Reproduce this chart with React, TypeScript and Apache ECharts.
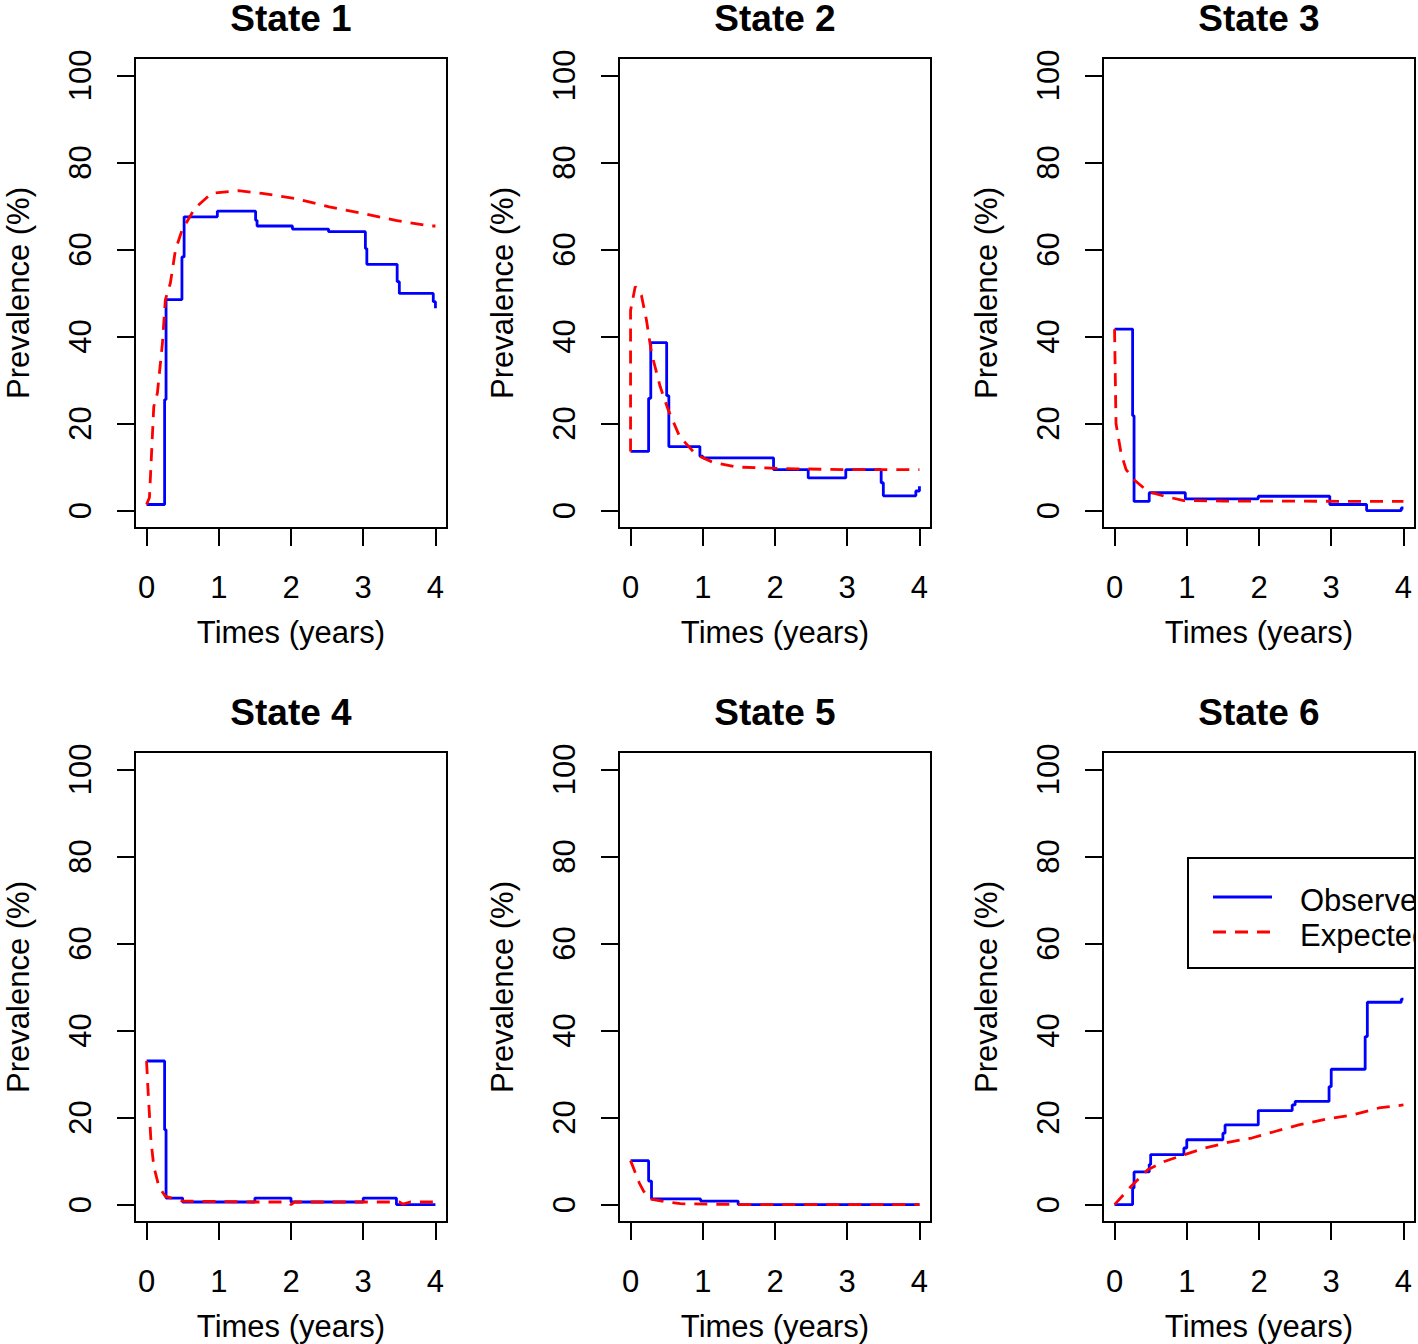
import React, { useEffect, useRef } from "react";
import * as echarts from "echarts";

const stateTitles = ["State 1", "State 2", "State 3", "State 4", "State 5", "State 6"];
const xTicks = [0, 1, 2, 3, 4];
const yTicks = [0, 20, 40, 60, 80, 100];
const xTitle = "Times (years)";
const yTitle = "Prevalence (%)";
const legendLabels = ["Observed", "Expected"];

// Observed prevalence (step function), [time, value]
const observed1 = [[0, 1.4], [0.25, 25.5], [0.27, 48.5], [0.49, 58.3], [0.52, 67.5], [0.98, 68.8], [1.51, 66.7], [1.53, 65.4], [2.02, 64.7], [2.52, 64.1], [3.03, 60.2], [3.05, 56.6], [3.47, 52.6], [3.5, 49.9], [3.97, 48], [4, 46.5]];
const observed2 = [[0, 13.6], [0.25, 25.8], [0.28, 38.6], [0.5, 26.4], [0.53, 14.7], [0.96, 12.5], [1.0, 12.1], [1.98, 9.4], [2.46, 7.5], [2.98, 9.4], [3.47, 6.4], [3.5, 3.4], [3.95, 4.5], [4, 5.6]];
const observed3 = [[0, 41.7], [0.25, 21.8], [0.27, 2.1], [0.48, 4.1], [0.98, 2.7], [1.99, 3.3], [2.98, 1.4], [3.49, 0], [3.97, 0.6], [4, 0.6]];
const observed4 = [[0, 33], [0.25, 17.2], [0.27, 1.5], [0.5, 0.6], [1.5, 1.5], [2.0, 0.6], [3.0, 1.5], [3.46, 0], [4, 0]];
const observed5 = [[0, 10.1], [0.25, 5.4], [0.29, 1.3], [0.97, 0.8], [1.49, 0], [4, 0]];
const observed6 = [[0, 0], [0.25, 3.8], [0.27, 7.5], [0.48, 9.2], [0.5, 11.5], [0.96, 13], [1.0, 14.9], [1.5, 16.4], [1.53, 18.3], [1.99, 21.6], [2.46, 22.9], [2.5, 23.7], [2.97, 27.1], [3.0, 31.1], [3.47, 38.6], [3.5, 46.5], [3.97, 47.2], [4, 47.2]];

// Expected prevalence, [time, value]
const expected1 = [[0, 1.4], [0.04, 3], [0.1, 23.9], [0.15, 27], [0.22, 38.5], [0.26, 48.4], [0.33, 52.3], [0.4, 59.9], [0.49, 64.4], [0.67, 69.5], [0.9, 72.9], [1.27, 73.5], [1.6, 72.9], [2.06, 71.7], [2.53, 69.8], [2.99, 68.3], [3.45, 66.7], [3.92, 65.4], [4, 65.4]];
const expected2 = [[0, 13.6], [0, 46], [0.065, 51.5], [0.15, 49.5], [0.22, 43.8], [0.29, 36.2], [0.41, 28.5], [0.52, 23.2], [0.68, 17], [0.91, 12.8], [1.14, 11.1], [1.47, 10], [1.84, 9.8], [2.3, 9.6], [3, 9.4], [4, 9.4]];
const expected3 = [[0, 41.7], [0.02, 20], [0.09, 13.2], [0.16, 9.4], [0.27, 7.1], [0.46, 4.4], [0.69, 3.3], [0.96, 2.3], [1.5, 2.2], [4, 2.1]];
const expected4 = [[0, 33], [0.02, 26.4], [0.06, 14.9], [0.1, 8.8], [0.17, 4.2], [0.26, 1.9], [0.5, 0.8], [1.5, 0.6], [1.95, 0.6], [2.0, 0], [2.05, 0.6], [3.5, 0.6], [3.55, 0.1], [3.65, 0.6], [4, 0.6]];
const expected5 = [[0, 10.1], [0.05, 8], [0.12, 5], [0.18, 3.1], [0.27, 1.3], [0.46, 0.7], [0.69, 0.2], [1.5, 0], [4, 0]];
const expected6 = [[0, 0], [0.23, 4.2], [0.46, 8], [0.69, 9.9], [0.97, 11.5], [1.25, 13], [1.57, 14.3], [1.9, 15.3], [2.22, 16.8], [2.55, 18.3], [2.92, 19.6], [3.29, 20.6], [3.66, 22.2], [4, 22.9]];

const observedSeries = [observed1, observed2, observed3, observed4, observed5, observed6];
const expectedSeries = [expected1, expected2, expected3, expected4, expected5, expected6];

const colLefts = [135, 619, 1103];
const rowTops = [58, 752];
const PW = 312;
const PH = 470;
const FONT = "'Liberation Sans', Arial, Helvetica, sans-serif";
const BLUE = "#0000ff";
const RED = "#ff0000";
const LW = 2.8;
const DASH = [13, 9];

export default function App() {
  const ref = useRef<HTMLDivElement>(null);
  useEffect(() => {
    if (!ref.current) return;
    const chart = echarts.init(ref.current, null, { renderer: "svg" });
    const grids: any[] = [];
    const xAxes: any[] = [];
    const yAxes: any[] = [];
    const titles: any[] = [];
    const series: any[] = [];
    for (let i = 0; i < 6; i++) {
      const r = Math.floor(i / 3);
      const c = i % 3;
      grids.push({
        left: colLefts[c], top: rowTops[r], width: PW, height: PH,
        show: true, borderColor: "#000", borderWidth: 2, backgroundColor: "transparent",
      });
      xAxes.push({
        type: "value", gridIndex: i, min: -0.16, max: 4.16,
        splitLine: { show: false }, axisLine: { show: false, onZero: false },
        axisTick: { show: true, inside: false, customValues: xTicks, length: 18, lineStyle: { color: "#000", width: 2 } },
        axisLabel: { customValues: xTicks, margin: 44, fontSize: 31, fontFamily: FONT, color: "#000" },
        name: xTitle, nameLocation: "middle", nameGap: 89,
        nameTextStyle: { fontSize: 31, fontFamily: FONT, color: "#000" },
      });
      yAxes.push({
        type: "value", gridIndex: i, min: -4, max: 104,
        splitLine: { show: false }, axisLine: { show: false, onZero: false },
        axisTick: { show: true, inside: false, customValues: yTicks, length: 18, lineStyle: { color: "#000", width: 2 } },
        axisLabel: { customValues: yTicks, rotate: 90, margin: 39.5, fontSize: 31, fontFamily: FONT, color: "#000" },
        name: yTitle, nameLocation: "middle", nameGap: 101.5,
        nameTextStyle: { fontSize: 31, fontFamily: FONT, color: "#000" },
      });
      titles.push({
        text: stateTitles[i], left: colLefts[c] + PW / 2, top: rowTops[r] - 58, textAlign: "center", padding: 0,
        textStyle: { fontSize: 37, fontWeight: "bold", fontFamily: FONT, color: "#000" },
      });
      series.push({
        type: "line", name: legendLabels[0], xAxisIndex: i, yAxisIndex: i, data: observedSeries[i],
        step: "end", symbol: "none", showSymbol: false, clip: false,
        lineStyle: { color: BLUE, width: LW }, z: 2,
      });
      series.push({
        type: "line", name: legendLabels[1], xAxisIndex: i, yAxisIndex: i, data: expectedSeries[i],
        symbol: "none", showSymbol: false, clip: false,
        lineStyle: { color: RED, width: LW, type: DASH }, z: 3,
      });
    }
    // legend inside panel 6, clipped by the plot region like the original
    series.push({
      type: "custom", xAxisIndex: 5, yAxisIndex: 5, clip: true, silent: true, z: 5,
      data: [[0, 0]],
      renderItem: (params: any) => {
        const cs = params.coordSys;
        const L = cs.x + 85;
        const T = cs.y + 106;
        return {
          type: "group",
          children: [
            { type: "rect", shape: { x: L, y: T, width: 300, height: 110 }, style: { fill: "none", stroke: "#000", lineWidth: 2 } },
            { type: "line", shape: { x1: L + 25, y1: T + 39, x2: L + 84, y2: T + 39 }, style: { stroke: BLUE, lineWidth: LW } },
            { type: "line", shape: { x1: L + 25, y1: T + 74, x2: L + 84, y2: T + 74 }, style: { stroke: RED, lineWidth: LW, lineDash: DASH } },
            { type: "text", style: { x: L + 112, y: T + 42, text: legendLabels[0], fontSize: 31, fontFamily: FONT, fill: "#000", verticalAlign: "middle", align: "left" } },
            { type: "text", style: { x: L + 112, y: T + 77, text: legendLabels[1], fontSize: 31, fontFamily: FONT, fill: "#000", verticalAlign: "middle", align: "left" } },
          ],
        };
      },
    });
    chart.setOption({
      animation: false,
      backgroundColor: "#fff",
      title: titles,
      grid: grids,
      xAxis: xAxes,
      yAxis: yAxes,
      series,
    });
    return () => chart.dispose();
  }, []);
  return <div ref={ref} style={{ position: "absolute", left: 0, top: 0, width: 1418, height: 1344 }} />;
}
